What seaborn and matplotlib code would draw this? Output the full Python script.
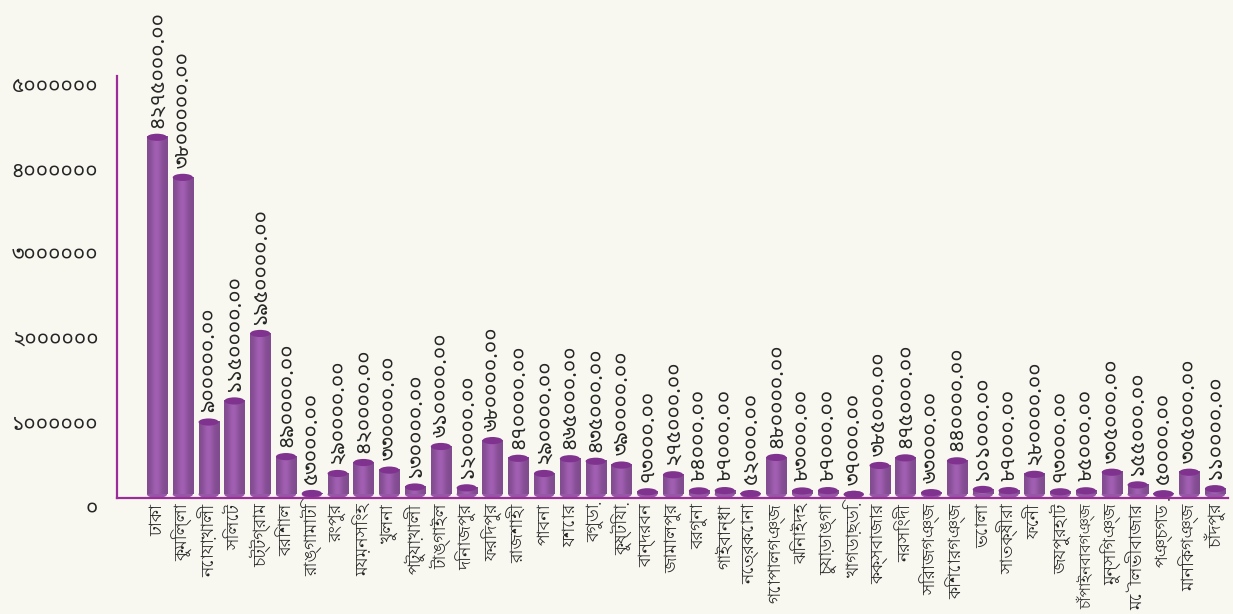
import numpy as np
import pandas as pd
import matplotlib
matplotlib.use("Agg")
import matplotlib.pyplot as plt
import seaborn as sns
from matplotlib.patches import Ellipse

districts = ["ঢাকা", "কুমিল্লা", "নোয়াখালী", "সিলেট", "চট্টগ্রাম", "বরিশাল", "রাঙ্গামাটি",
             "রংপুর", "ময়মনসিংহ", "খুলনা", "পটুয়াখালী", "টাঙ্গাইল", "দিনাজপুর", "ফরিদপুর",
             "রাজশাহী", "পাবনা", "যশোর", "বগুড়া", "কুষ্টিয়া", "বান্দরবন", "জামালপুর", "বরগুনা",
             "গাইবান্ধা", "নেত্রকোনা", "গোপালগঞ্জ", "ঝিনাইদহ", "চুয়াডাঙ্গা", "খাগড়াছড়ি",
             "কক্সবাজার", "নরসিংদী", "সিরাজগঞ্জ", "কিশোরগঞ্জ", "ভোলা", "সাতক্ষীরা", "ফেনী",
             "জয়পুরহাট", "চাঁপাইনবাবগঞ্জ", "মুন্সিগঞ্জ", "মৌলভীবাজার", "পঞ্চগড়", "মানিকগঞ্জ",
             "চাঁদপুর"]
values = [4275000, 3800000, 900000, 1150000, 1950000, 490000, 53000,
          290000, 420000, 330000, 130000, 610000, 120000, 680000,
          470000, 290000, 465000, 435000, 390000, 73000, 275000, 84000,
          87000, 52000, 480000, 83000, 87000, 37000,
          385000, 475000, 63000, 440000, 101000, 87000, 280000,
          73000, 85000, 305000, 155000, 50000, 305000,
          110000]
y_ticks = [0, 1000000, 2000000, 3000000, 4000000, 5000000]

BN_DIGITS = str.maketrans("0123456789", "০১২৩৪৫৬৭৮৯")


def bn(s):
    return str(s).translate(BN_DIGITS)


sns.set_style("white")
plt.rcParams["font.family"] = ["Noto Sans Bengali", "Lohit Bengali", "DejaVu Sans"]
NUM_FONT = ["Noto Sans Bengali", "DejaVu Sans"]
NAME_FONT = ["Lohit Bengali", "Noto Sans Bengali", "DejaVu Sans"]

purple = "#9b2d9b"
body = "#9658a6"
cap = "#80328f"
bg = "#f8f8f0"

df = pd.DataFrame({"district": districts, "value": values})

fig = plt.figure(figsize=(12.33, 6.14), dpi=100, facecolor=bg)
ax = fig.add_axes([0.0949, 0.1890, 0.901, 0.687])
ax.set_facecolor("none")

sns.barplot(data=df, x="district", y="value", color=body, width=0.78,
            saturation=1, ax=ax, zorder=2)

# cylinder look: horizontal shading on the body, ellipses for top and bottom
ell_h = 85000
grad = np.linspace(0, 1, 64)
shade = 0.86 + 0.22 * np.exp(-((grad - 0.45) / 0.25) ** 2)
base_rgb = np.array(matplotlib.colors.to_rgb(body))
img = np.clip(base_rgb[None, :] * shade[:, None], 0, 1)[None, :, :]

for p, v in zip(list(ax.patches), values):
    x0, w = p.get_x(), p.get_width()
    p.set_visible(False)
    lo = ell_h / 2
    hi = max(v, lo)
    if hi > lo:
        ax.imshow(img, extent=[x0, x0 + w, lo, hi], aspect="auto", zorder=2,
                  interpolation="bilinear")
    ax.add_patch(Ellipse((x0 + w / 2, lo), w, ell_h, facecolor=body, edgecolor="none", zorder=1.9))
    ax.add_patch(Ellipse((x0 + w / 2, hi), w, ell_h, facecolor=cap, edgecolor="none", zorder=3))
    ax.annotate(bn(f"{v:.2f}"), (x0 + w / 2, hi), xytext=(0, 7), textcoords="offset points",
                rotation=90, ha="center", va="bottom", fontsize=15, family=NUM_FONT,
                annotation_clip=False)

ax.set_xlim(-1.55, len(values) - 0.5)
ax.set_ylim(0, 5000000)

ax.set_yticks(y_ticks)
ax.set_yticklabels([bn(t) for t in y_ticks], fontsize=15, family=NUM_FONT)
ax.set_xticks(np.arange(len(values)))
ax.set_xticklabels(districts, rotation=90, fontsize=12.5, family=NAME_FONT)
ax.set_xlabel("")
ax.set_ylabel("")

# the longest name would run off the bottom edge
for lab in ax.get_xticklabels():
    if len(lab.get_text()) > 12:
        lab.set_fontsize(11)

for lab in ax.get_yticklabels():
    lab.set_verticalalignment("top")
ax.tick_params(axis="y", direction="in", length=17, width=1.4, color=purple, pad=13.5)
ax.tick_params(axis="x", length=0, pad=4)
# small upward ticks between the bars
ax.set_xticks(np.arange(len(values)) + 0.5, minor=True)
ax.tick_params(axis="x", which="minor", direction="in", length=5, width=1.4, color=purple)

for side in ["top", "right"]:
    ax.spines[side].set_visible(False)
for side in ["left", "bottom"]:
    ax.spines[side].set_color(purple)
    ax.spines[side].set_linewidth(1.6)

fig.savefig("out.png", dpi=100, facecolor=bg)
